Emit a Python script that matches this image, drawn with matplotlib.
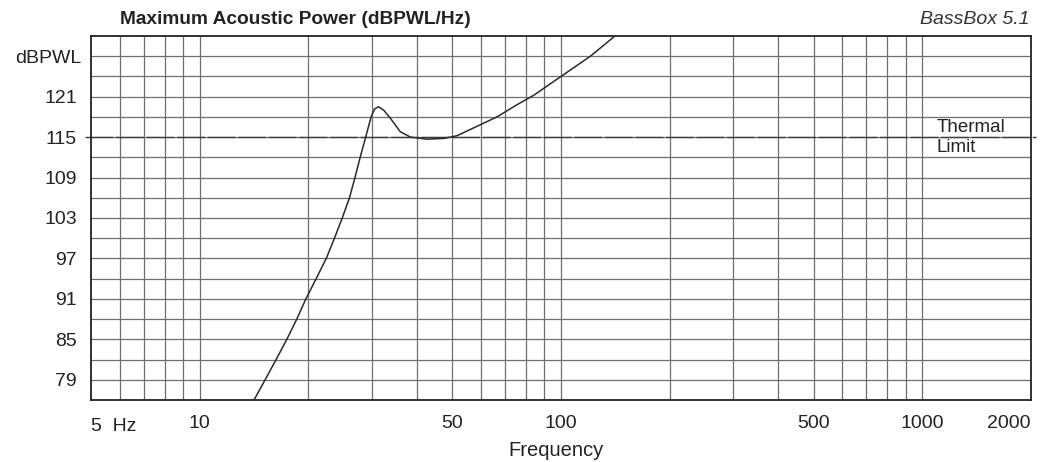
import matplotlib
matplotlib.use("Agg")
import matplotlib.pyplot as plt
import matplotlib.transforms as mtransforms
import numpy as np

plt.rcParams['font.family'] = ['Liberation Sans', 'DejaVu Sans']

# Data
freq_hz = [14.2, 15.17, 16.27, 17.42, 18.56, 19.67, 21.0, 22.4, 23.6, 24.8, 25.97, 26.9, 27.8,
           28.8, 29.8, 30.5, 31.25, 32.3, 33.7, 35.9, 38.3, 42.5, 47.3, 51.5, 58.0, 66.5,
           75.5, 84.0, 100.0, 120.6, 141.0]
power_db = [76.2, 79.0, 82.0, 85.0, 88.0, 91.0, 94.0, 97.0, 100.0, 103.0, 106.0, 109.0, 112.0,
            115.0, 118.0, 119.2, 119.5, 119.0, 117.8, 115.8, 115.0, 114.7, 114.8, 115.2, 116.5, 118.0,
            119.8, 121.2, 124.0, 127.0, 130.0]
thermal_limit_db = 115
y_tick_values = [79, 85, 91, 97, 103, 109, 115, 121, 127]
y_tick_labels = ['79', '85', '91', '97', '103', '109', '115', '121', 'dBPWL']
x_tick_values = [10, 50, 100, 500, 1000, 2000]
x_tick_labels = ['10', '50', '100', '500', '1000', '2000']
x_grid = [6, 7, 8, 9, 10, 20, 30, 40, 50, 60, 70, 80, 90, 100,
          200, 300, 400, 500, 600, 700, 800, 900, 1000]
y_grid = list(range(79, 130, 3))

fig = plt.figure(figsize=(10.44, 4.62), dpi=100)
ax = fig.add_axes([91/1044, (462-400)/462, (1031-91)/1044, (400-36)/462])
ax.set_xscale('log')
ax.set_xlim(5, 2000)
ax.set_ylim(76, 130)

grid_col = '#6e6e6e'
for xv in x_grid:
    ax.axvline(xv, color=grid_col, lw=0.9, zorder=1)
for yv in y_grid:
    ax.axhline(yv, color=grid_col, lw=0.9, zorder=1)

# thermal limit line extending slightly beyond axes
ax.plot([-0.006, 1.005], [thermal_limit_db, thermal_limit_db], color='#3a3a3a', lw=1.0,
        transform=ax.get_yaxis_transform(), clip_on=False, zorder=2, dashes=(20, 2))

ax.plot(freq_hz, power_db, color='#2a2a2a', lw=1.1, zorder=3)

fs = 14
ax.set_yticks(y_tick_values)
ax.set_yticklabels(y_tick_labels)
ax.set_xticks(x_tick_values)
ax.set_xticklabels(x_tick_labels)
ax.xaxis.set_minor_locator(matplotlib.ticker.NullLocator())
ax.tick_params(axis='both', length=0, labelsize=fs, colors='#222222')
ax.tick_params(axis='x', pad=11)
ax.tick_params(axis='y', pad=10)
ax.get_xticklabels()[-1].set_ha('right')
lab = ax.get_yticklabels()[-1]
lab.set_transform(lab.get_transform() + mtransforms.ScaledTranslation(4/100, 0, fig.dpi_scale_trans))
ax.text(5, -0.05, '5  Hz', transform=ax.get_xaxis_transform(), ha='left', va='top',
        fontsize=fs, color='#222222')

for s in ax.spines.values():
    s.set_color('#222222')
    s.set_linewidth(1.3)

fig.text(120/1044, 1 - 20/462, 'Maximum Acoustic Power (dBPWL/Hz)', fontsize=13.8,
         fontweight='bold', ha='left', va='center', color='#222222')
fig.text(1030/1044, 1 - 20/462, 'BassBox 5.1', fontsize=14, style='italic',
         ha='right', va='center', color='#333333')
fig.text(556/1044, 1 - 450/462, 'Frequency', fontsize=14.5, ha='center', va='center',
         color='#222222')
fig.text(937/1044, 1 - 127/462, 'Thermal', fontsize=13.5, ha='left', va='center', color='#222222')
fig.text(937/1044, 1 - 148/462, 'Limit', fontsize=13.5, ha='left', va='center', color='#222222')

fig.savefig('out.png', dpi=100, facecolor='white')
